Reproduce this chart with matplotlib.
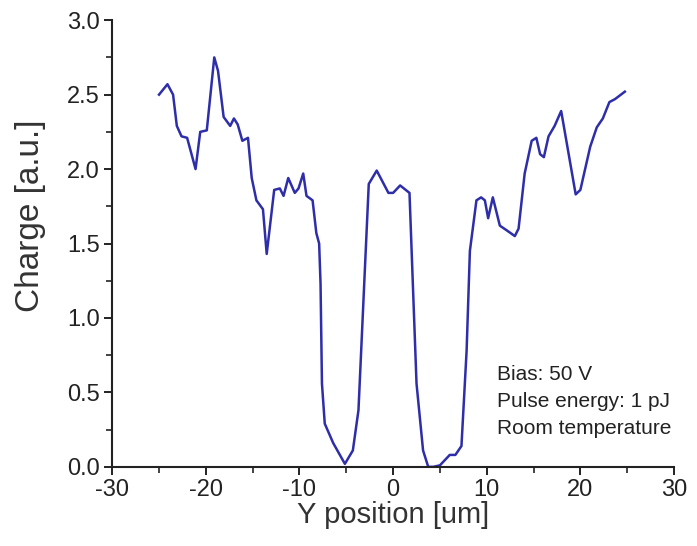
import matplotlib
matplotlib.use("Agg")
import matplotlib.pyplot as plt
from matplotlib.ticker import MultipleLocator, FormatStrFormatter

y_pos = [-25.0, -24.1, -23.5, -23.1, -22.6, -22.0, -21.1, -20.6, -19.9, -19.1,
         -18.7, -18.1, -17.4, -17.0, -16.6, -16.1, -15.5, -15.1, -14.6, -13.9,
         -13.5, -12.7, -12.1, -11.7, -11.2, -10.5, -10.1, -9.6, -9.25, -8.6,
         -8.2, -7.9, -7.75, -7.6, -7.3, -6.4, -5.15, -4.3, -3.7, -2.6,
         -1.75, -0.5, 0.0, 0.75, 1.75, 2.5, 3.2, 3.75, 4.3, 5.0,
         6.05, 6.65, 7.3, 7.85, 8.2, 8.9, 9.4, 9.8, 10.15, 10.65,
         11.4, 12.1, 13.0, 13.4, 14.05, 14.8, 15.3, 15.7, 16.1, 16.6,
         17.25, 17.95, 19.5, 20.0, 21.05, 21.75, 22.4, 23.1, 23.7, 24.75]
charge = [2.50, 2.57, 2.50, 2.29, 2.22, 2.21, 2.00, 2.25, 2.26, 2.75,
          2.66, 2.35, 2.29, 2.34, 2.30, 2.19, 2.21, 1.94, 1.79, 1.73,
          1.43, 1.86, 1.87, 1.82, 1.94, 1.84, 1.87, 1.97, 1.82, 1.79,
          1.57, 1.50, 1.23, 0.56, 0.29, 0.16, 0.02, 0.11, 0.38, 1.90,
          1.99, 1.84, 1.84, 1.89, 1.84, 0.56, 0.11, 0.00, 0.00, 0.01,
          0.08, 0.08, 0.14, 0.78, 1.45, 1.79, 1.81, 1.79, 1.67, 1.81,
          1.62, 1.59, 1.55, 1.60, 1.97, 2.19, 2.21, 2.10, 2.08, 2.22,
          2.29, 2.39, 1.83, 1.86, 2.15, 2.28, 2.34, 2.45, 2.47, 2.52]

note_lines = ["Bias: 50 V", "Pulse energy: 1 pJ", "Room temperature"]

plt.rcParams['font.family'] = ['Liberation Sans', 'DejaVu Sans']
plt.rcParams['axes.unicode_minus'] = False

fig = plt.figure(figsize=(6.97, 5.46), dpi=100)
ax = fig.add_axes([0.161, 0.145, 0.806, 0.818])

ax.plot(y_pos, charge, color='#2e2eaa', lw=1.8)

ax.set_xlim(-30, 30)
ax.set_ylim(0, 3.0)
ax.xaxis.set_major_locator(MultipleLocator(10))
ax.xaxis.set_minor_locator(MultipleLocator(5))
ax.yaxis.set_major_locator(MultipleLocator(0.5))
ax.yaxis.set_minor_locator(MultipleLocator(0.25))
ax.yaxis.set_major_formatter(FormatStrFormatter('%.1f'))

for side in ['top', 'right']:
    ax.spines[side].set_visible(False)
for side in ['left', 'bottom']:
    ax.spines[side].set_linewidth(1.5)
    ax.spines[side].set_color('#222222')

ax.tick_params(which='major', direction='out', length=6, width=1.4,
               labelsize=17, colors='#222222', pad=3)
ax.tick_params(which='minor', direction='out', length=4, width=1.2, colors='#222222')

ax.set_xlabel('Y position [um]', fontsize=21, color='#333333', labelpad=0)
ax.set_ylabel('Charge [a.u.]', fontsize=24, color='#333333')
ax.yaxis.set_label_coords(-0.118, 0.562)

ax.text(0.685, 0.228, "\n".join(note_lines), transform=ax.transAxes,
        fontsize=15, color='#222222', va='top', ha='left', linespacing=1.55)

fig.savefig('out.png', dpi=100)
